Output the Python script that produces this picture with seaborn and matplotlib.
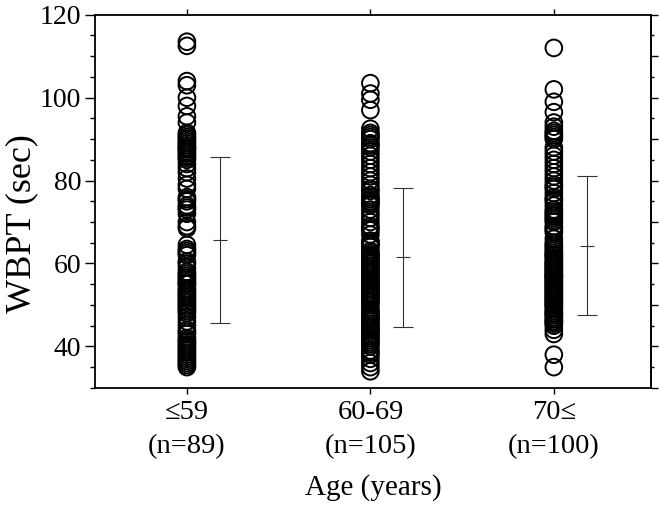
import numpy as np
import pandas as pd
import matplotlib
matplotlib.use('Agg')
import matplotlib.pyplot as plt
import seaborn as sns
from matplotlib.ticker import MultipleLocator

# 各年龄组的 WBPT 值 (从图中读取, 近似)
age_labels = ['≤59\n(n=89)', '60-69\n(n=105)', '70≤\n(n=100)']

wbpt_59 = [113.5, 112.5, 104, 103, 100, 98, 95.5, 94, 91.5, 91,
           90.5, 90, 89.5, 89, 88.5, 88, 87.5, 87, 86, 85.5,
           85, 84, 83, 82, 80.5, 79, 78, 76, 75.5, 75,
           74, 73.5, 73, 72, 70, 69, 68.5, 64.5, 63.5, 63,
           62, 60.5, 59, 58, 57, 56.5, 56, 55.5, 55, 54,
           53.5, 53, 52.5, 52, 51, 50.5, 50, 49.5, 49, 48,
           47, 46, 45, 44, 43.5, 43, 42, 41.5, 41, 40.5,
           40, 39.5, 39, 38.5, 38, 37.5, 37, 36.5, 36, 35.5,
           35, 55, 60, 62.5, 86.5, 88, 51.5, 48.5, 57.5]

wbpt_60_69 = [103.5, 101, 99.5, 97, 92.5, 91.5, 91, 90.5, 90, 89,
              88.5, 88, 87, 86, 84, 83, 82, 81, 80, 79,
              77.5, 76.5, 76, 75.5, 75, 74.5, 74, 73, 72, 71,
              70, 69, 68, 67, 65.5, 65, 64.5, 64, 63, 62.5,
              62, 61.5, 61, 60.5, 60, 59.5, 59, 58.5, 58, 57.5,
              57, 56.5, 56, 55.5, 55, 54.5, 54, 53.5, 53, 52.5,
              52, 51.5, 51, 50, 49, 48.5, 48, 47.5, 47, 46.5,
              46, 45.5, 45, 44.5, 44, 43.5, 43, 42.5, 42, 41.5,
              41, 40.5, 40, 39, 38.5, 38, 37, 36, 35, 34,
              55, 58, 60, 62, 56, 53, 50.5, 74.5, 78, 85,
              65, 68.5, 44, 47, 52]

wbpt_70 = [112, 102, 99, 96.5, 94, 93, 92, 91.5, 91, 90,
           87, 86, 85, 84, 83, 82, 80, 79, 78, 77,
           76, 75, 74, 73, 72, 71.5, 71, 70, 69, 68,
           67.5, 65, 64, 63, 62, 61.5, 61, 60.5, 60, 59.5,
           59, 58.5, 58, 57.5, 57, 56.5, 56, 55.5, 55, 54.5,
           54, 53.5, 53, 52.5, 52, 51.5, 51, 50.5, 50, 49.5,
           49, 48.5, 48, 47.5, 47, 46.5, 46, 45.5, 45, 44,
           43, 38, 35, 72.5, 70.5, 66, 64.5, 62.5, 60, 58,
           56, 54, 52, 50, 48, 53, 55, 57, 90.5, 88,
           81, 78.5, 75.5, 68.5, 63.5, 46, 51, 57, 62, 59]

# 均值 ± 标准差 (从误差线读取)
group_mean = [65.6, 61.5, 64.3]
group_sd = [20.0, 16.8, 16.8]

df = pd.DataFrame({
    'age': [age_labels[0]] * len(wbpt_59) + [age_labels[1]] * len(wbpt_60_69) + [age_labels[2]] * len(wbpt_70),
    'wbpt': wbpt_59 + wbpt_60_69 + wbpt_70,
})

sns.set_theme(style='ticks')
plt.rcParams['font.family'] = ['Liberation Serif', 'DejaVu Serif']
plt.rcParams['text.color'] = 'black'
plt.rcParams['axes.labelcolor'] = 'black'
plt.rcParams['xtick.color'] = 'black'
plt.rcParams['ytick.color'] = 'black'

fig, ax = plt.subplots(figsize=(6.61, 5.09), dpi=100)
fig.subplots_adjust(left=0.144, right=0.985, top=0.971, bottom=0.238)

sns.stripplot(data=df, x='age', y='wbpt', order=age_labels, jitter=False,
              marker='o', s=12, facecolor='none', edgecolor='black',
              linewidth=1.4, ax=ax, zorder=3)

# 误差线, 向右偏移
xpos = np.arange(len(age_labels)) + 0.18
ax.errorbar(xpos, group_mean, yerr=group_sd, fmt='_', color='#333333',
            markersize=10, markeredgewidth=0.8, elinewidth=0.8,
            capsize=7.5, capthick=0.8)

ax.set_xlim(-0.5, 2.53)
ax.set_ylim(30, 120)
ax.yaxis.set_major_locator(MultipleLocator(20))
ax.yaxis.set_minor_locator(MultipleLocator(5))
ax.tick_params(axis='y', which='major', length=7, width=1, labelsize=20, direction='out', pad=3)
ax.tick_params(axis='y', which='minor', length=3.5, width=1, direction='out')
ax.tick_params(axis='x', which='major', length=4, width=1, labelsize=20.5,
               direction='out', top=True, pad=5)
for lbl in ax.get_xticklabels():
    lbl.set_linespacing(1.45)

sec = ax.secondary_yaxis('right')
sec.yaxis.set_major_locator(MultipleLocator(10))
sec.yaxis.set_minor_locator(MultipleLocator(5))
sec.tick_params(which='major', length=5, width=1, labelright=False)
sec.tick_params(which='minor', length=2.5, width=1)

for side in ['top', 'right', 'left', 'bottom']:
    ax.spines[side].set_visible(True)
    ax.spines[side].set_linewidth(1.3)
    ax.spines[side].set_color('black')
sec.spines['right'].set_linewidth(1.3)

ax.set_xlabel('Age (years)', fontsize=21, labelpad=11)
ax.set_ylabel('WBPT (sec)', fontsize=26)
ax.yaxis.set_label_coords(-0.102, 0.44)

plt.savefig('out.png', dpi=100)
